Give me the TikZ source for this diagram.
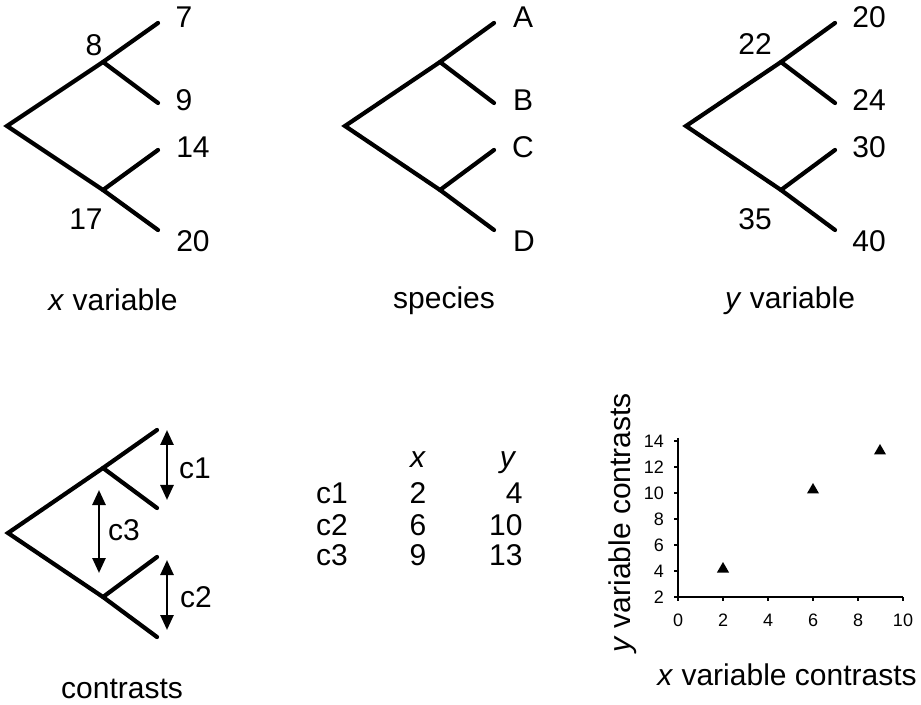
\documentclass[tikz,border=0pt]{standalone}
\usepackage{fontspec}
\setmainfont{Liberation Sans}
\usepackage{tikz}
\usetikzlibrary{arrows.meta, shapes.geometric, positioning}

\begin{document}
\begin{tikzpicture}[
    x=0.5pt, y=-0.5pt,
    branch/.style={line width=2.1pt, line cap=round},
    label/.style={font=\fontsize{15}{18}\selectfont, inner sep=0pt},
    caption/.style={label, anchor=base},
    ticklabel/.style={font=\fontsize{9}{11}\selectfont, inner sep=0pt},
    contrast/.style={line width=1.3pt, {Triangle[width=6.5pt,length=7.5pt]}-{Triangle[width=6.5pt,length=7.5pt]}},
    axis/.style={line width=1pt},
    marker/.style={regular polygon, regular polygon sides=3, fill=black, inner sep=0pt, minimum size=7pt}
]
\useasboundingbox (0,0) rectangle (921,705);

% x variable tree
\coordinate (xr) at (7,126);
\coordinate (xu) at (103,62);
\coordinate (xl) at (103,190);
\coordinate (xa) at (158,23);
\coordinate (xb) at (158,103);
\coordinate (xc) at (158,150);
\coordinate (xd) at (158,230);
\draw[branch] (xa) -- (xu) -- (xr) -- (xl) -- (xd);
\draw[branch] (xu) -- (xb);
\draw[branch] (xl) -- (xc);
\node[label] (x7) at (184,17) {7};
\node[label] (x8) at (94,45) {8};
\node[label] (x9) at (184,100) {9};
\node[label] (x14) at (193,147) {14};
\node[label] (x17) at (86,219) {17};
\node[label] (x20) at (193,241) {20};
\node[caption] (xname) at (113,311) {\textit{x} variable};

% species tree
\coordinate (sr) at (345,126);
\coordinate (su) at (440,62);
\coordinate (sl) at (440,190);
\coordinate (sa) at (494,23);
\coordinate (sb) at (494,103);
\coordinate (sc) at (494,150);
\coordinate (sd) at (494,230);
\draw[branch] (sa) -- (su) -- (sr) -- (sl) -- (sd);
\draw[branch] (su) -- (sb);
\draw[branch] (sl) -- (sc);
\node[label] (sA) at (523,17) {A};
\node[label] (sB) at (523,100) {B};
\node[label] (sC) at (523,147) {C};
\node[label] (sD) at (524,241) {D};
\node[caption] (sname) at (444,309) {species};

% y variable tree
\coordinate (yr) at (686,126);
\coordinate (yu) at (781,62);
\coordinate (yl) at (781,190);
\coordinate (ya) at (835,23);
\coordinate (yb) at (835,103);
\coordinate (yc) at (835,150);
\coordinate (yd) at (835,230);
\draw[branch] (ya) -- (yu) -- (yr) -- (yl) -- (yd);
\draw[branch] (yu) -- (yb);
\draw[branch] (yl) -- (yc);
\node[label] (y20) at (869,17) {20};
\node[label] (y22) at (755,44) {22};
\node[label] (y24) at (869,100) {24};
\node[label] (y30) at (869,147) {30};
\node[label] (y35) at (755,219) {35};
\node[label] (y40) at (869,241) {40};
\node[caption] (yname) at (790,309) {\textit{y} variable};

% contrasts tree
\coordinate (cr) at (8,533);
\coordinate (cu) at (103,468);
\coordinate (cl) at (103,597);
\coordinate (ca) at (157,430);
\coordinate (cb) at (157,508);
\coordinate (cc) at (157,557);
\coordinate (cd) at (157,637);
\draw[branch] (ca) -- (cu) -- (cr) -- (cl) -- (cd);
\draw[branch] (cu) -- (cb);
\draw[branch] (cl) -- (cc);
\coordinate (c1top) at (167,430);
\coordinate (c1bot) at (167,500);
\coordinate (c2top) at (167,560);
\coordinate (c2bot) at (167,630);
\coordinate (c3top) at (99,490);
\coordinate (c3bot) at (99,573);
\draw[contrast] (c1top) -- (c1bot);
\draw[contrast] (c2top) -- (c2bot);
\draw[contrast] (c3top) -- (c3bot);
\node[label] (c1) at (195,468) {c1};
\node[label] (c3) at (124,530) {c3};
\node[label] (c2) at (196,597) {c2};
\node[caption] (cname) at (122,698) {contrasts};

% table
\node[caption] (hx) at (418,467) {\textit{x}};
\node[caption] (hy) at (508,467) {\textit{y}};
\node[caption] (r1) at (332,503) {c1};
\node[caption] (r2) at (332,535) {c2};
\node[caption] (r3) at (332,565) {c3};
\node[caption] (r1x) at (418,503) {2};
\node[caption] (r2x) at (418,535) {6};
\node[caption] (r3x) at (418,565) {9};
\node[caption, anchor=base east] (r1y) at (523,503) {4};
\node[caption, anchor=base east] (r2y) at (523,535) {10};
\node[caption, anchor=base east] (r3y) at (523,565) {13};

% scatter plot
\coordinate (origin) at (678,597);
\coordinate (xend) at (903,597);
\coordinate (yend) at (678,438);
\draw[axis] (yend) -- (origin) -- (xend);
\foreach \v in {0,2,...,10}
  \draw[axis] (678+22.5*\v,597) -- (678+22.5*\v,601)
    node[ticklabel, anchor=center] at (678+22.5*\v,620) {\v};
\foreach \v in {2,4,...,14}
  \draw[axis] (678,597-13*\v+26) -- (674,597-13*\v+26)
    node[ticklabel, anchor=east] at (665,597-13*\v+26) {\v};
\node[marker] (p1) at (723,569) {};
\node[marker] (p2) at (813,490) {};
\node[marker] (p3) at (880,451) {};
\node[caption, rotate=90] (ylab) at (630,523) {\textit{y} variable contrasts};
\node[caption] (xlab) at (787,685) {\textit{x} variable contrasts};

\end{tikzpicture}
\end{document}
